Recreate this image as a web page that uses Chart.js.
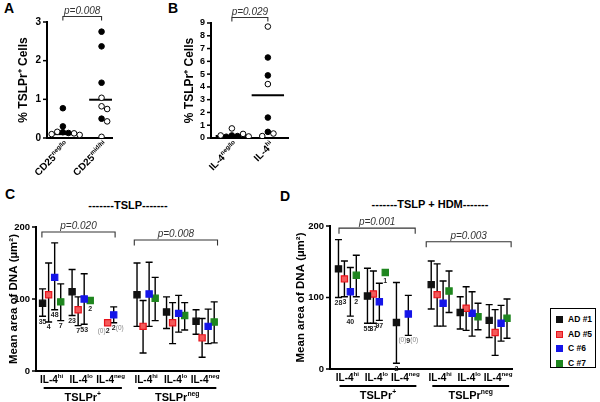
<!DOCTYPE html>
<html>
<head>
<meta charset="utf-8">
<script src="https://cdn.jsdelivr.net/npm/chart.js@4.4.1/dist/chart.umd.min.js"></script>
<style>
body { margin: 0; background: #fff; }
#fig { position: relative; width: 600px; height: 402px; overflow: hidden; font-family: "Liberation Sans", Arial, sans-serif; color: #000; }
#fig canvas { position: absolute; }
.txt { position: absolute; font-weight: bold; line-height: 1; white-space: nowrap; }
#legend { position: absolute; left: 550px; top: 308px; width: 46px; height: 60px; border: 1.5px solid #000; box-sizing: border-box; }
.item { position: absolute; left: 5px; font-size: 8.5px; font-weight: bold; line-height: 1; white-space: nowrap; color: #000; }
.item span { display: inline-block; width: 7px; height: 7px; margin-right: 5px; vertical-align: -1px; box-sizing: border-box; }
</style>
</head>
<body>
<div id="fig">
  <div class="txt" style="left:4px;top:1px;font-size:14px">A</div>
  <div class="txt" style="left:168px;top:1px;font-size:14px">B</div>
  <div class="txt" style="left:5px;top:187px;font-size:14px">C</div>
  <div class="txt" style="left:280px;top:189px;font-size:14px">D</div>
  <div class="txt" style="left:48px;top:200px;width:160px;text-align:center;font-size:11px">-------TSLP-------</div>
  <div class="txt" style="left:350px;top:199px;width:160px;text-align:center;font-size:11px">-------TSLP + HDM-------</div>
  <canvas id="chartA" width="150" height="200" style="left:0;top:0"></canvas>
  <canvas id="chartB" width="150" height="200" style="left:150px;top:0"></canvas>
  <canvas id="chartC" width="262" height="202" style="left:0;top:200px"></canvas>
  <canvas id="chartD" width="280" height="202" style="left:262px;top:200px"></canvas>
  <div id="legend"></div>
</div>
<script>
// ---- panel A: CD25 subsets
const cd25Cats = ['CD25^{neg/lo}', 'CD25^{mid/hi}'];
const cd25Filled = [[0.77, 0.3, 0.15, 0.13], [2.75, 2.37, 1.43, 0.5]];
const cd25Open = [[0.16, 0.12, 0.1, 0.08], [1.04, 0.82, 0.75, 0.43, 0.03]];
const cd25Median = [0.1, 0.99];
const cd25Ticks = [0, 1, 2, 3];
const cd25P = 'p=0.008';

// ---- panel B: IL-4 subsets
const il4Cats = ['IL-4^{neg/lo}', 'IL-4^{hi}'];
const il4Filled = [[0.2, 0.15, 0.1], [6.3, 4.9, 1.6, 0.48]];
const il4Open = [[0.75, 0.32, 0.2, 0.12], [8.72, 4.22, 0.35, 0.15]];
const il4Median = [0.15, 3.35];
const il4Ticks = [0, 1, 2, 3, 4, 5, 6, 7, 8, 9];
const il4P = 'p=0.029';

// ---- panels C / D: groups and donors
const groups = ['IL-4^{hi}', 'IL-4^{lo}', 'IL-4^{neg}', 'IL-4^{hi}', 'IL-4^{lo}', 'IL-4^{neg}'];
const blocks = ['TSLPr^{+}', 'TSLPr^{neg}'];
const seriesNames = ['AD #1', 'AD #5', 'C #6', 'C #7'];
const seriesColors = ['#111111', '#e8141c', '#1515e8', '#1f861f'];
const seriesFills = ['#111111', '#f45a5a', '#1515e8', '#1f861f'];
const areaTicks = [0, 100, 200];

// TSLP (rows = donors, columns = groups)
const tslpMean = [[94, 110, null, 106, 82, 69], [106, 85, 67, 62, 67, 46], [130, 100, 78, 107, 80, 62], [96, 98, null, 101, 77, 68]];
const tslpLow = [[76, 77, null, 62, 59, 51], [68, 63, null, 25, 38, 19], [85, 65, 67, 62, 54, 38], [70, null, null, 70, 57, 39]];
const tslpHigh = [[114, 141, null, 150, 103, 85], [150, 103, null, 98, 95, 73], [178, 135, 89, 151, 105, 86], [121, null, null, 130, 95, 96]];
const tslpN = [['35', '23', '(0)'], ['4', '7', '2'], ['48', '53', '2'], ['7', '2', '(0)']];
const tslpP = ['p=0.020', 'p=0.008'];

// TSLP + HDM
const hdmMean = [[140, 102, 65, 118, 79, 68], [126, 105, null, 104, 85, 51], [108, 94, 77, 92, 78, 64], [131, 135, null, 109, 73, 71]];
const hdmLow = [[100, 64, 8, 84, 56, 44], [101, 64, null, 60, 54, 19], [74, 68, 47, 60, 46, 39], [101, null, null, 79, 55, 43]];
const hdmHigh = [[181, 141, 121, 151, 101, 90], [151, 137, null, 147, 115, 83], [142, 120, 103, 123, 108, 89], [159, null, null, 137, 92, 98]];
const hdmN = [['28', '55', '2'], ['3', '37', '(0)'], ['40', '97', '9'], ['2', '1', '(0)']];
const hdmP = ['p=0.001', 'p=0.003'];

const FONT = '"Liberation Sans", Arial, sans-serif';
Chart.defaults.font.family = FONT;
Chart.defaults.color = '#000';

// text with ^{superscript} parts
function drawRich(ctx, str, x, y, align, size) {
  const parts = str.split(/\^\{|\}/).map((t, i) => ({ t, sup: i % 2 === 1 })).filter(p => p.t);
  const base = `bold ${size}px ${FONT}`;
  const sup = `bold ${(size * 0.62).toFixed(1)}px ${FONT}`;
  let w = 0;
  parts.forEach(p => { ctx.font = p.sup ? sup : base; p.w = ctx.measureText(p.t).width; w += p.w; });
  let cx = align === 'center' ? x - w / 2 : align === 'right' ? x - w : x;
  ctx.fillStyle = '#000';
  ctx.textAlign = 'left';
  ctx.textBaseline = 'alphabetic';
  parts.forEach(p => {
    ctx.font = p.sup ? sup : base;
    ctx.fillText(p.t, cx, p.sup ? y - size * 0.42 : y);
    cx += p.w;
  });
}

function drawBracket(ctx, x0, x1, y, leg, text) {
  ctx.save();
  ctx.strokeStyle = '#333';
  ctx.lineWidth = 1.1;
  ctx.beginPath();
  ctx.moveTo(x0, y + leg);
  ctx.lineTo(x0, y);
  ctx.lineTo(x1, y);
  ctx.lineTo(x1, y + leg);
  ctx.stroke();
  ctx.fillStyle = '#333';
  ctx.font = `italic 10px ${FONT}`;
  ctx.textAlign = 'center';
  ctx.textBaseline = 'alphabetic';
  ctx.fillText(text, (x0 + x1) / 2, y - 3);
  ctx.restore();
}

// y tick marks and numbers, placed through the y scale, all of them kept
function yLabelPlugin(size, values) {
  return {
    id: 'yLabels',
    afterDraw(chart) {
      const { ctx, chartArea, scales: { y } } = chart;
      ctx.save();
      ctx.strokeStyle = '#000';
      ctx.lineWidth = 1.5;
      ctx.font = `bold ${size}px ${FONT}`;
      ctx.fillStyle = '#000';
      ctx.textAlign = 'right';
      ctx.textBaseline = 'middle';
      values.forEach(v => {
        const py = y.getPixelForValue(v);
        ctx.beginPath();
        ctx.moveTo(chartArea.left - 4, py);
        ctx.lineTo(chartArea.left, py);
        ctx.stroke();
        ctx.fillText(String(v), chartArea.left - 6, py);
      });
      ctx.restore();
    }
  };
}

// simple beeswarm so that overlapping dots sit side by side
function swarm(filled, open, pxX, pxY) {
  const out = { filled: [], open: [] };
  const gap = 5.6;
  filled.forEach((fv, c) => {
    const placed = [];
    const items = fv.map(v => ({ v, kind: 'filled' })).concat(open[c].map(v => ({ v, kind: 'open' })));
    items.forEach(it => {
      for (let k = 0; k < 14; k++) {
        const dx = Math.ceil(k / 2) * (k % 2 ? 1 : -1) * gap;
        if (placed.every(p => Math.hypot(p.dx - dx, (p.v - it.v) * pxY) >= gap)) {
          placed.push({ v: it.v, dx });
          out[it.kind].push({ x: c + 1 + dx / pxX, y: it.v });
          break;
        }
      }
    });
  });
  return out;
}

function yAxis(max, width, titleText, titleSize) {
  return {
    min: 0, max: max,
    ticks: { display: false },
    grid: { display: false },
    border: { display: true, color: '#000', width: 2 },
    title: { display: true, text: titleText, font: { size: titleSize, weight: 'bold' }, color: '#000', padding: { top: 0, bottom: 0 } },
    afterFit: s => { s.width = width; }
  };
}

function xAxis(min, max, height) {
  return {
    type: 'linear', min: min, max: max,
    ticks: { display: false },
    grid: { display: false },
    border: { display: true, color: '#000', width: 2 },
    afterFit: s => { s.height = height; }
  };
}

function scatterPanel(id, cats, filled, open, medians, yTicks, pText, L) {
  const yMax = yTicks[yTicks.length - 1];
  const areaW = L.w - L.pad.left - L.pad.right - L.yW;
  const areaH = L.h - L.pad.top - L.xH;
  const pts = swarm(filled, open, areaW / (L.xMax - L.xMin), areaH / yMax);
  const medianSets = medians.map((m, i) => ({
    type: 'line',
    data: [{ x: i + 1 - L.half, y: m }, { x: i + 1 + L.half, y: m }],
    borderColor: '#000', borderWidth: 2, pointRadius: 0
  }));
  const labels = {
    id: 'labels' + id,
    afterDraw(chart) {
      const { ctx, chartArea, scales: { x, y } } = chart;
      cats.forEach((c, i) => {
        ctx.save();
        ctx.translate(x.getPixelForValue(i + 1) + 4, chartArea.bottom + 5);
        ctx.rotate(-Math.PI / 4);
        drawRich(ctx, c, 0, 3.5, 'right', 10);
        ctx.restore();
      });
      drawBracket(ctx, x.getPixelForValue(1), x.getPixelForValue(2), y.getPixelForValue(yMax) - 5.5, 4, pText);
    }
  };
  new Chart(document.getElementById(id), {
    type: 'scatter',
    data: {
      datasets: [
        { data: pts.filled, backgroundColor: '#000', borderColor: '#000', borderWidth: 1, pointRadius: 2.8 },
        { data: pts.open, backgroundColor: '#fff', borderColor: '#000', borderWidth: 1, pointRadius: 2.8 }
      ].concat(medianSets)
    },
    options: {
      responsive: false, animation: false,
      layout: { padding: L.pad },
      plugins: { legend: { display: false }, tooltip: { enabled: false } },
      scales: {
        x: xAxis(L.xMin, L.xMax, L.xH),
        y: yAxis(yMax, L.yW, '% TSLPr\u207A Cells', 12)
      }
    },
    plugins: [labels, yLabelPlugin(L.tick, yTicks)]
  });
}

const groupPos = g => g + 1 + (g >= 3 ? 0.2 : 0);
const slotOff = s => (s - 1.5) * 0.205;

function errorPanel(id, mean, low, high, nLab, pTexts, L) {
  const datasets = seriesNames.map((name, s) => ({
    label: name,
    data: mean[s].map((m, g) => ({ x: groupPos(g) + slotOff(s), y: m, lo: low[s][g], hi: high[s][g] })).filter(d => d.y !== null),
    pointStyle: 'rect', pointRadius: 4.4, borderWidth: 1.2,
    backgroundColor: seriesFills[s], borderColor: seriesColors[s]
  }));

  const errorBars = {
    id: 'errorBars' + id,
    beforeDatasetsDraw(chart) {
      const { ctx, scales: { y } } = chart;
      ctx.save();
      ctx.strokeStyle = '#000';
      ctx.lineWidth = 1.4;
      chart.data.datasets.forEach((ds, di) => {
        chart.getDatasetMeta(di).data.forEach((pt, i) => {
          const d = ds.data[i];
          if (d.lo == null) return;
          const yl = y.getPixelForValue(d.lo), yh = y.getPixelForValue(d.hi);
          ctx.beginPath();
          ctx.moveTo(pt.x, yl); ctx.lineTo(pt.x, yh);
          ctx.moveTo(pt.x - 3.5, yl); ctx.lineTo(pt.x + 3.5, yl);
          ctx.moveTo(pt.x - 3.5, yh); ctx.lineTo(pt.x + 3.5, yh);
          ctx.stroke();
        });
      });
      ctx.restore();
    }
  };

  const texts = {
    id: 'texts' + id,
    afterDraw(chart) {
      const { ctx, chartArea, scales: { x, y } } = chart;
      const b = chartArea.bottom;
      // group tick labels
      groups.forEach((g, i) => drawRich(ctx, g, x.getPixelForValue(groupPos(i)), b + 11.5, 'center', 10));
      // block underlines and names
      blocks.forEach((name, k) => {
        const x0 = x.getPixelForValue(groupPos(k * 3) - 0.27);
        const x1 = x.getPixelForValue(groupPos(k * 3 + 2) + 0.38);
        ctx.save();
        ctx.strokeStyle = '#000';
        ctx.lineWidth = 1.8;
        ctx.beginPath(); ctx.moveTo(x0, b + 17); ctx.lineTo(x1, b + 17); ctx.stroke();
        ctx.restore();
        drawRich(ctx, name, (x0 + x1) / 2, b + 29.5, 'center', 11);
      });
      // cell counts under the TSLPr+ groups
      const labelY = (s, g) => {
        if (mean[s][g] === null) return null;
        const v = low[s][g] !== null ? low[s][g] : mean[s][g];
        return y.getPixelForValue(v) + (low[s][g] !== null ? 2 : 5);
      };
      ctx.save();
      ctx.textAlign = 'center';
      ctx.textBaseline = 'top';
      nLab.forEach((row, s) => row.forEach((n, g) => {
        let yy = labelY(s, g);
        const empty = yy === null;
        if (empty) {
          yy = (s < 3 && labelY(s + 1, g) !== null) ? labelY(s + 1, g) : labelY(s - 1, g);
        }
        ctx.font = empty ? `6.5px ${FONT}` : `bold 7px ${FONT}`;
        ctx.fillStyle = empty ? '#888' : '#222';
        ctx.fillText(n, x.getPixelForValue(groupPos(g) + slotOff(s)), yy);
      }));
      ctx.restore();
      // significance brackets
      L.brackets.forEach((br, k) => {
        drawBracket(ctx, x.getPixelForValue(groupPos(br[0]) + br[1]), x.getPixelForValue(groupPos(br[2]) + br[3]),
          y.getPixelForValue(br[4]), 5.5, pTexts[k]);
      });
    }
  };

  new Chart(document.getElementById(id), {
    type: 'scatter',
    data: { datasets: datasets },
    options: {
      responsive: false, animation: false,
      layout: { padding: L.pad },
      plugins: { legend: { display: false }, tooltip: { enabled: false } },
      scales: {
        x: xAxis(L.xMin, L.xMax, L.xH),
        y: yAxis(areaTicks[areaTicks.length - 1], L.yW, 'Mean area of DNA (\u00B5m\u00B2)', 11.5)
      }
    },
    plugins: [errorBars, texts, yLabelPlugin(9.5, areaTicks)]
  });
}

scatterPanel('chartA', cd25Cats, cd25Filled, cd25Open, cd25Median, cd25Ticks, cd25P,
  { w: 150, h: 200, pad: { left: 16.8, right: 38, top: 22, bottom: 0 }, yW: 30.2, xH: 62, xMin: 0.59, xMax: 2.27, tick: 10, half: 0.32 });
scatterPanel('chartB', il4Cats, il4Filled, il4Open, il4Median, il4Ticks, il4P,
  { w: 150, h: 200, pad: { left: 32.8, right: 12, top: 23, bottom: 0 }, yW: 28.2, xH: 62, xMin: 0.42, xMax: 2.56, tick: 9, half: 0.45 });

errorPanel('chartC', tslpMean, tslpLow, tslpHigh, tslpN, tslpP,
  { pad: { left: 6.8, right: 43, top: 27, bottom: 0 }, yW: 29.2, xH: 31, xMin: 0.47, xMax: 6.67,
    brackets: [[0, -0.33, 2, 0.15, 193], [3, -0.4, 5, 0.42, 182]] });
errorPanel('chartD', hdmMean, hdmLow, hdmHigh, hdmN, hdmP,
  { pad: { left: 31.8, right: 30, top: 26, bottom: 0 }, yW: 36.2, xH: 33, xMin: 0.4, xMax: 6.68,
    brackets: [[0, -0.29, 2, 0.34, 197], [3, -0.48, 5, 0.45, 178]] });

// legend box
const legend = document.getElementById('legend');
seriesNames.forEach((name, s) => {
  const row = document.createElement('div');
  row.className = 'item';
  row.style.top = (6 + s * 14.5) + 'px';
  row.innerHTML = `<span style="background:${seriesFills[s]};border:1px solid ${seriesColors[s]}"></span>${name}`;
  legend.appendChild(row);
});
</script>
</body>
</html>
